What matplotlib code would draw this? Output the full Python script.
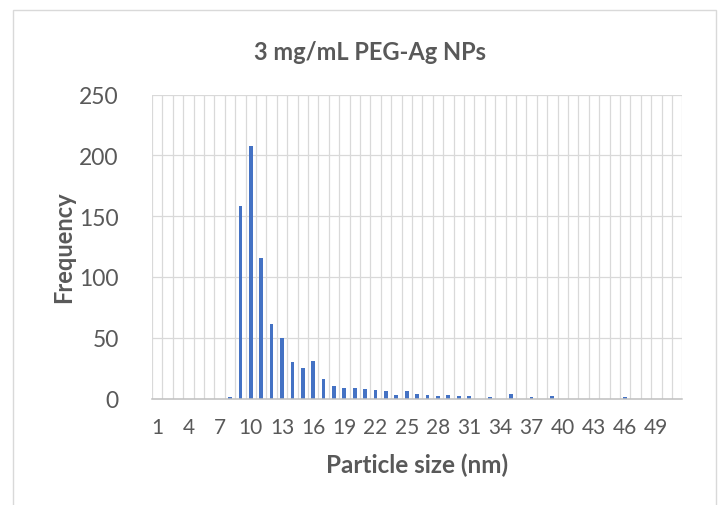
import matplotlib
matplotlib.use('Agg')
import matplotlib.pyplot as plt
from matplotlib.patches import Rectangle

# particle size bins (nm) and how many particles fell in each
sizes = list(range(1, 52))
counts = [0, 0, 0, 0, 0, 0, 0, 1, 158, 208,
          116, 61, 50, 30, 25, 31, 16, 10, 9, 9,
          8, 7, 6, 3, 6, 4, 3, 2, 3, 2,
          2, 0, 1, 0, 4, 0, 1, 0, 2, 0,
          0, 0, 0, 0, 0, 1, 0, 0, 0, 0,
          0]
tick_labels = [str(s) for s in sizes[::3]]
y_ticks = [0, 50, 100, 150, 200, 250]

TXT = '#595959'
GRID = '#D9D9D9'
BAR = '#4472C4'

plt.rcParams['font.family'] = ['Lato', 'DejaVu Sans']

W, H = 722, 506
fig = plt.figure(figsize=(W / 100, H / 100), dpi=100)

# outer chart border (bottom edge is cut off in the original)
fig.patches.append(Rectangle((13 / W, -0.05), (715.7 - 13) / W, 1.05 - 10.7 / H,
                             transform=fig.transFigure, fill=False,
                             edgecolor=GRID, linewidth=1.0))

left, right, top, bottom = 152, 682.3, 95.7, 399.5
ax = fig.add_axes([left / W, 1 - bottom / H, (right - left) / W, (bottom - top) / H])

ax.bar(sizes, counts, width=0.36, color=BAR, zorder=3)

ax.set_xlim(0.5, 51.5)
ax.set_ylim(0, 250)

# excel style gridlines: one vertical line at every category boundary
for b in range(0, 52):
  ax.axvline(b + 0.5, color=GRID, linewidth=0.9, zorder=1)
for y in y_ticks[1:]:
  ax.axhline(y, color=GRID, linewidth=0.9, zorder=1)

for side in ['top', 'right', 'left']:
  ax.spines[side].set_visible(False)
ax.spines['bottom'].set_color('#BFBFBF')
ax.spines['bottom'].set_linewidth(1.1)
ax.spines['bottom'].set_zorder(4)

ax.set_xticks(sizes[::3])
ax.set_xticklabels(tick_labels)
ax.set_yticks(y_ticks)
ax.tick_params(axis='both', length=0, colors=TXT)
ax.tick_params(axis='x', pad=13, labelsize=15)
ax.tick_params(axis='y', pad=24, labelsize=16.5)

fig.text(370 / W, 1 - 52 / H, '3 mg/mL PEG-Ag NPs', ha='center', va='center',
         fontsize=17, fontweight='bold', color=TXT)
fig.text(417 / W, 1 - 465 / H, 'Particle size (nm)', ha='center', va='center',
         fontsize=17.5, fontweight='bold', color=TXT)
fig.text(64 / W, 1 - 247 / H, 'Frequency', ha='center', va='center', rotation=90,
         fontsize=17, fontweight='bold', color=TXT)

plt.savefig('out.png', dpi=100)
